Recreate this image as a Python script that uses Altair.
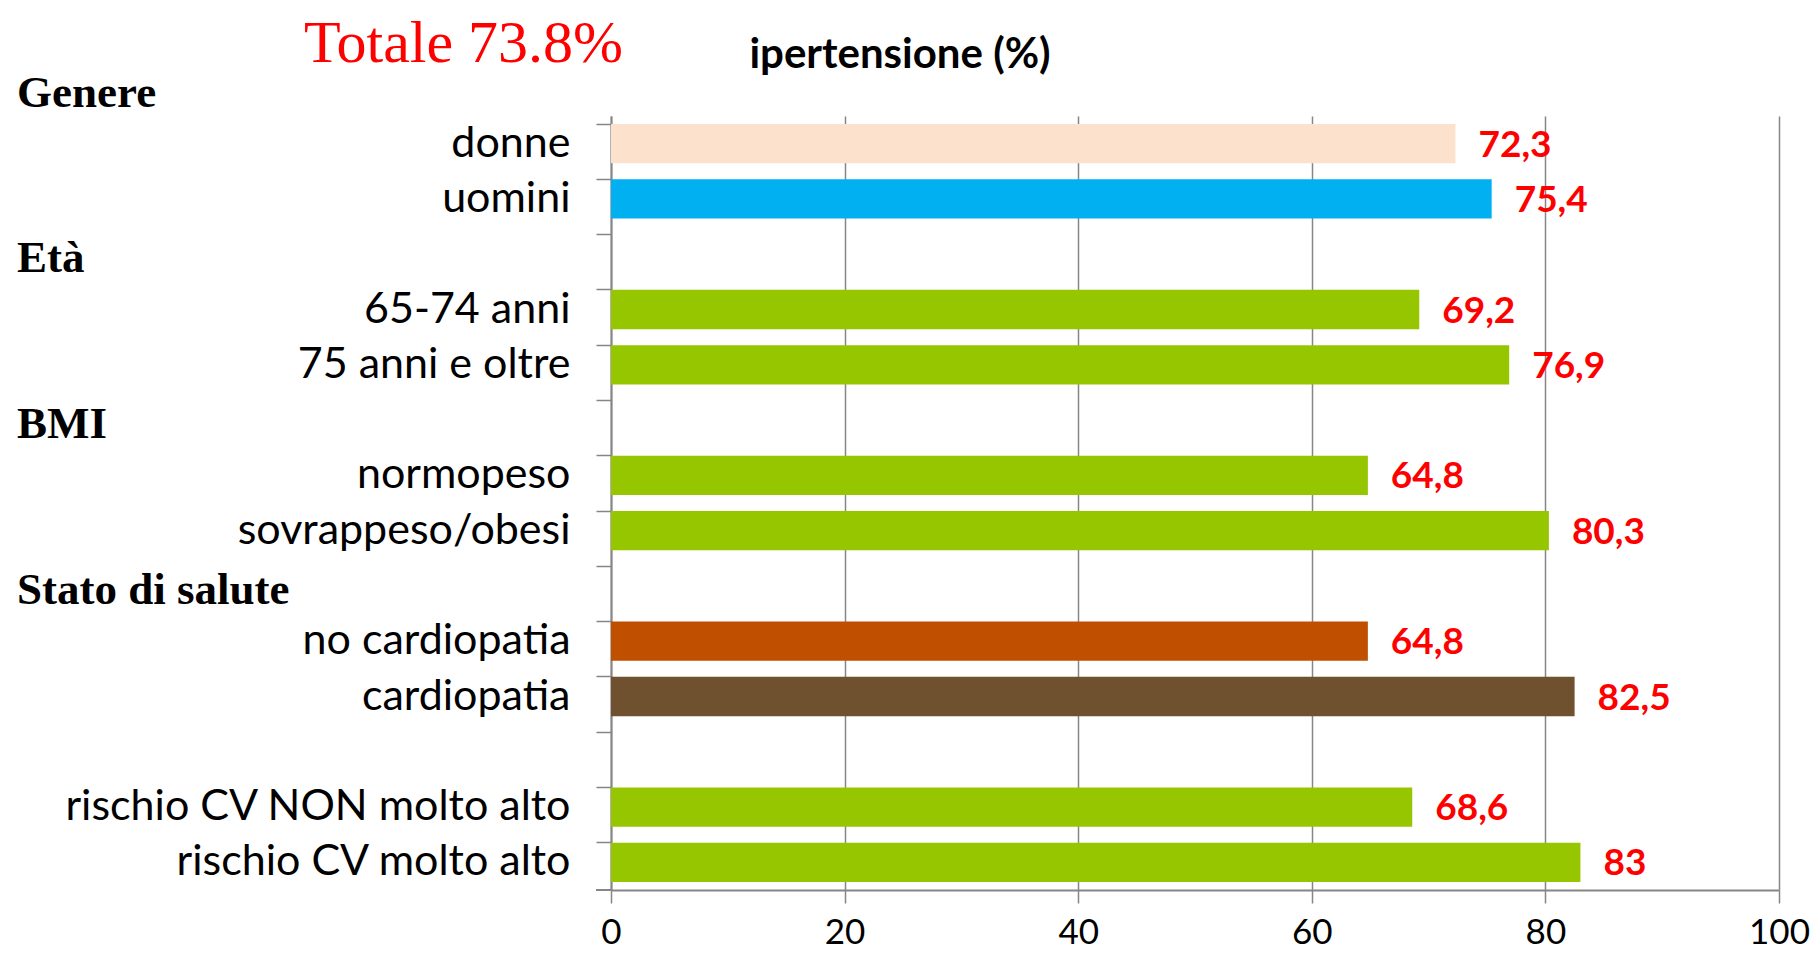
import altair as alt
import pandas as pd

# ---- data ----
slots = ["donne", "uomini", "gap1", "65-74 anni", "75 anni e oltre", "gap2",
         "normopeso", "sovrappeso/obesi", "gap3", "no cardiopatia", "cardiopatia",
         "gap4", "rischio CV NON molto alto", "rischio CV molto alto"]
categories = ["donne", "uomini", "65-74 anni", "75 anni e oltre", "normopeso",
              "sovrappeso/obesi", "no cardiopatia", "cardiopatia",
              "rischio CV NON molto alto", "rischio CV molto alto"]
values = [72.3, 75.4, 69.2, 76.9, 64.8, 80.3, 64.8, 82.5, 68.6, 83]
value_labels = ["72,3", "75,4", "69,2", "76,9", "64,8", "80,3", "64,8", "82,5", "68,6", "83"]
colors = ["#FCE1CD", "#00B0F0", "#95C600", "#95C600", "#95C600", "#95C600",
          "#C05000", "#70512F", "#95C600", "#95C600"]
group_titles = ["Età", "BMI", "Stato di salute"]
group_slots = ["gap1", "gap2", "gap3"]
ticks_x = [0, 20, 40, 60, 80, 100]

df = pd.DataFrame({"cat": categories, "val": values, "lab": value_labels, "col": colors})
groups = pd.DataFrame({"g": group_titles, "slot": group_slots})

W, H = 1168, 774
PL = 603  # left padding
GRAY = "#868686"

yscale = alt.Scale(domain=slots, paddingInner=0.29, paddingOuter=0.145)
yaxis = alt.Axis(title=None, bandPosition=0, tickSize=15, tickWidth=1.5, tickColor=GRAY,
                 domainColor=GRAY, domainWidth=2, labelFontSize=43, labelFont="Lato",
                 labelColor="black", labelPadding=26, labelLimit=0, grid=False,
                 labelExpr="indexof(datum.value, 'gap') == 0 ? '' : datum.value")
xaxis = alt.Axis(title=None, values=ticks_x, grid=True, gridColor=GRAY, gridWidth=1.5,
                 domainColor=GRAY, domainWidth=2, tickColor=GRAY, tickSize=13,
                 tickWidth=1.5, labelFontSize=35, labelFont="Lato", labelColor="black",
                 labelPadding=12, labelFlush=False)

base = alt.Chart(df)
bars = base.mark_bar().encode(
    y=alt.Y("cat:N", scale=yscale, axis=yaxis, sort=None),
    x=alt.X("val:Q", scale=alt.Scale(domain=[0, 100], nice=False), axis=xaxis),
    color=alt.Color("col:N", scale=None, legend=None),
)
labels = base.mark_text(align="left", baseline="middle", dx=23, dy=2, fontSize=37,
                        fontWeight="bold", font="Lato", color="#FF0000").encode(
    y=alt.Y("cat:N", scale=yscale, sort=None),
    x=alt.X("val:Q"),
    text="lab:N",
)
bottom_tick = alt.Chart(pd.DataFrame({"t": [0]})).mark_rule(color=GRAY, strokeWidth=2).encode(
    x=alt.value(-15), x2=alt.value(0), y=alt.value(H))
heads = alt.Chart(groups).mark_text(align="left", baseline="middle", dy=4, fontSize=45,
                                    fontWeight="bold", font="Liberation Serif",
                                    color="black").encode(
    y=alt.Y("slot:N", scale=yscale, sort=None),
    x=alt.value(17 - 8 - PL),
    text="g:N",
)
genere = alt.Chart(pd.DataFrame({"t": ["Genere"]})).mark_text(
    align="left", baseline="middle", fontSize=45, fontWeight="bold",
    font="Liberation Serif", color="black").encode(
    x=alt.value(17 - 8 - PL), y=alt.value(-23), text="t:N")
totale = alt.Chart(pd.DataFrame({"t": ["Totale 73.8%"]})).mark_text(
    align="left", baseline="alphabetic", fontSize=60, font="Liberation Serif",
    color="#FF0000").encode(x=alt.value(304 - 8 - PL), y=alt.value(-54), text="t:N")
title = alt.Chart(pd.DataFrame({"t": ["ipertensione (%)"]})).mark_text(
    align="center", baseline="middle", fontSize=42, fontWeight="bold", font="Lato",
    color="black").encode(x=alt.value(900 - 8 - PL), y=alt.value(-61), text="t:N")

chart = alt.layer(bars, labels, bottom_tick, heads, genere, totale, title).properties(
    width=W, height=H,
    autosize=alt.AutoSizeParams(type="none"),
    padding={"left": PL, "top": 108, "right": 33, "bottom": 64},
).configure_view(stroke=None)

chart.save("out.html", embed_options={"renderer": "svg", "actions": False})
